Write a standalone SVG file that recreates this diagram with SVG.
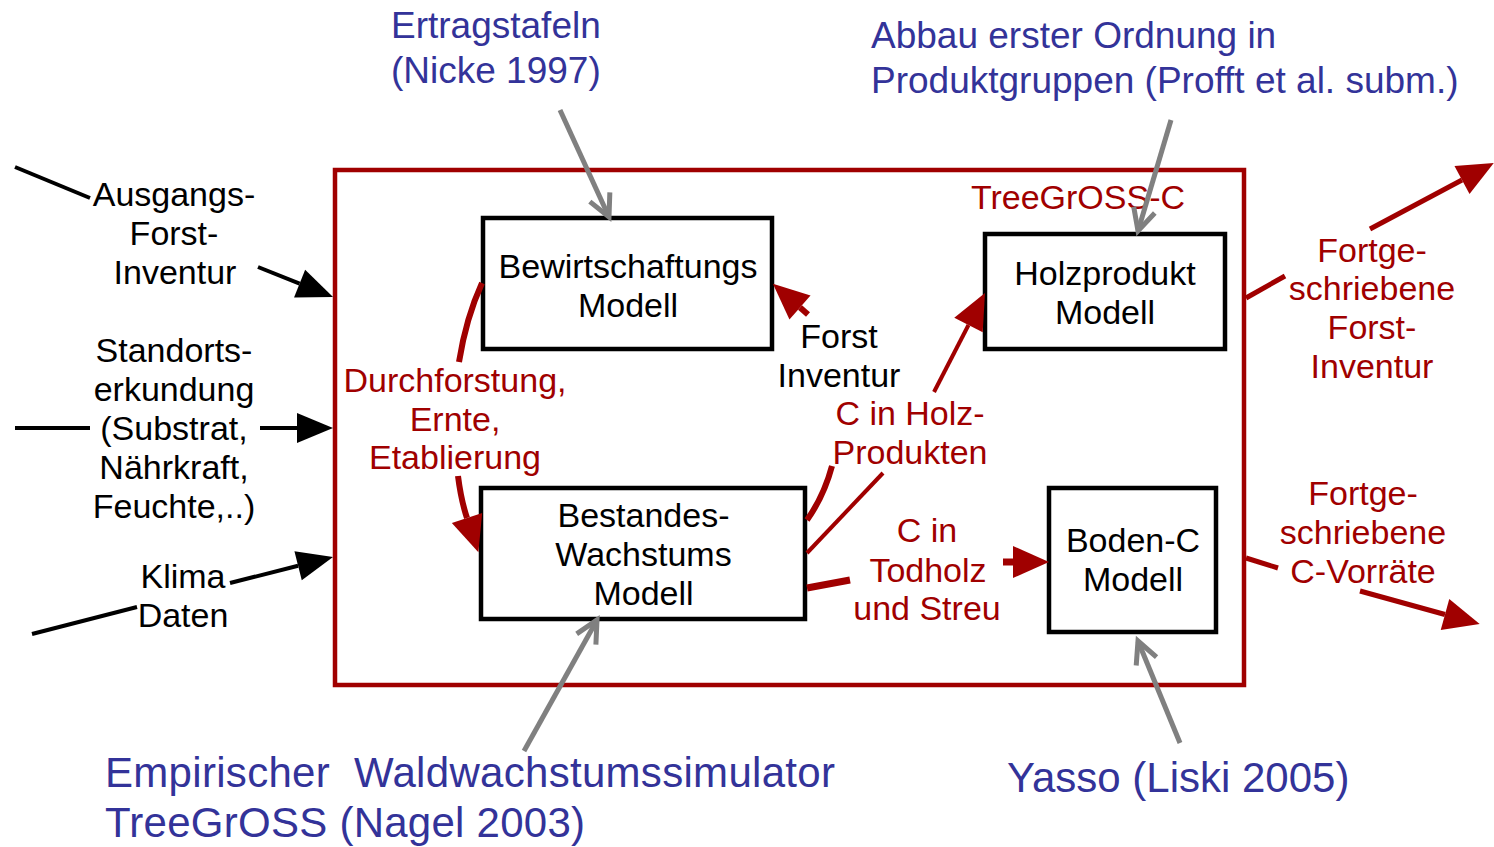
<svg xmlns="http://www.w3.org/2000/svg" width="1494" height="847" viewBox="0 0 1494 847">
<style>
text{font-family:"Liberation Sans",Arial,Helvetica,sans-serif;}
.blk{font-size:34px;fill:#000;text-anchor:middle;}
.red{font-size:34px;fill:#a00000;text-anchor:middle;}
.blue{fill:#333399;}
.box{fill:#fff;stroke:#000;stroke-width:4.5;}
.frame{fill:none;stroke:#a00000;stroke-width:4.5;}
.rl{fill:none;stroke:#a00000;}
.bl{fill:none;stroke:#000;stroke-width:4;}
.gl{fill:none;stroke:#808080;stroke-width:5;}
</style>
<defs>
<marker id="ahB" markerUnits="userSpaceOnUse" viewBox="0 0 36 30" refX="0" refY="15" markerWidth="36" markerHeight="30" orient="auto" overflow="visible"><path d="M0,0 L36,15 L0,30 z" fill="#000"/></marker>
<marker id="ahR" markerUnits="userSpaceOnUse" viewBox="0 0 36 32" refX="0" refY="16" markerWidth="36" markerHeight="32" orient="auto" overflow="visible"><path d="M0,0 L36,16 L0,32 z" fill="#a00000"/></marker>
<marker id="ahG" markerUnits="userSpaceOnUse" viewBox="-26 -16 32 32" refX="0" refY="0" markerWidth="32" markerHeight="32" orient="auto" overflow="visible"><path d="M-22,-11 L0,0 L-22,11" fill="none" stroke="#808080" stroke-width="5"/></marker>
</defs>

<rect id="frame" class="frame" x="335" y="170" width="909" height="515"/>
<text id="frame-label" class="red" x="1078" y="209">TreeGrOSS-C</text>

<g id="node-bewirtschaftung">
<rect class="box" x="483" y="218" width="289" height="131"/>
<text class="blk" x="628" y="278">Bewirtschaftungs</text>
<text class="blk" x="628" y="317">Modell</text>
</g>
<g id="node-bestandes">
<rect class="box" x="481" y="488" width="324" height="131"/>
<text class="blk" x="643.5" y="527">Bestandes-</text>
<text class="blk" x="643.5" y="566">Wachstums</text>
<text class="blk" x="643.5" y="605">Modell</text>
</g>
<g id="node-holzprodukt">
<rect class="box" x="985" y="234" width="240" height="115"/>
<text class="blk" x="1105" y="285">Holzprodukt</text>
<text class="blk" x="1105" y="324">Modell</text>
</g>
<g id="node-boden">
<rect class="box" x="1049" y="488" width="167" height="144"/>
<text class="blk" x="1133" y="552">Boden-C</text>
<text class="blk" x="1133" y="591">Modell</text>
</g>

<g id="input-labels">
<text class="blk" x="174" y="206">Ausgangs-</text>
<text class="blk" x="174" y="245">Forst-</text>
<text class="blk" x="175" y="284">Inventur</text>
<text class="blk" x="174" y="362">Standorts-</text>
<text class="blk" x="174" y="401">erkundung</text>
<text class="blk" x="174" y="440">(Substrat,</text>
<text class="blk" x="174" y="479">Nährkraft,</text>
<text class="blk" x="174" y="518">Feuchte,..)</text>
<text class="blk" x="183" y="588">Klima</text>
<text class="blk" x="183" y="627">Daten</text>
</g>

<g id="flow-labels">
<text class="red" x="455" y="392">Durchforstung,</text>
<text class="red" x="455" y="431">Ernte,</text>
<text class="red" x="455" y="469">Etablierung</text>
<text class="blk" x="839" y="348">Forst</text>
<text class="blk" x="839" y="387">Inventur</text>
<text class="red" x="910" y="425">C in Holz-</text>
<text class="red" x="910" y="464">Produkten</text>
<text class="red" x="927" y="542">C in</text>
<text class="red" x="928" y="582">Todholz</text>
<text class="red" x="927" y="620">und Streu</text>
<text class="red" x="1372" y="262">Fortge-</text>
<text class="red" x="1372" y="300">schriebene</text>
<text class="red" x="1372" y="339">Forst-</text>
<text class="red" x="1372" y="378">Inventur</text>
<text class="red" x="1363" y="505">Fortge-</text>
<text class="red" x="1363" y="544">schriebene</text>
<text class="red" x="1363" y="583">C-Vorräte</text>
</g>

<g id="source-labels">
<text class="blue" x="391" y="38" font-size="37">Ertragstafeln</text>
<text class="blue" x="391" y="83" font-size="37">(Nicke 1997)</text>
<text class="blue" x="871" y="48" font-size="37">Abbau erster Ordnung in</text>
<text class="blue" x="871" y="93" font-size="37">Produktgruppen (Profft et al. subm.)</text>
<text class="blue" x="105" y="787" font-size="42" xml:space="preserve" textLength="730" lengthAdjust="spacing">Empirischer  Waldwachstumssimulator</text>
<text class="blue" x="105" y="837" font-size="42" textLength="480" lengthAdjust="spacing">TreeGrOSS (Nagel 2003)</text>
<text class="blue" x="1007" y="792" font-size="42">Yasso (Liski 2005)</text>
</g>

<g id="connectors">
<path class="rl" stroke-width="6" d="M482,283 Q466,318 459,362"/>
<path class="rl" stroke-width="6" d="M458,476 Q461,500 467,518" marker-end="url(#ahR)"/>
<path class="rl" stroke-width="6" d="M807,520 Q824,496 832,466"/>
<path class="rl" stroke-width="6" d="M808,314.5 L800,307.5" marker-end="url(#ahR)"/>
<path class="rl" stroke-width="4" d="M807,553 L883,473"/>
<path class="rl" stroke-width="4" d="M934,392 L968.5,325" marker-end="url(#ahR)"/>
<path class="rl" stroke-width="7" d="M807,588 L850,580"/>
<path class="rl" stroke-width="7" d="M1003,562 L1013,562" marker-end="url(#ahR)"/>
<path class="rl" stroke-width="5" d="M1246,298 L1285,276"/>
<path class="rl" stroke-width="5" d="M1370,229 L1462,180" marker-end="url(#ahR)"/>
<path class="rl" stroke-width="5" d="M1246,558 L1278,568"/>
<path class="rl" stroke-width="5" d="M1360,591 L1445,614.5" marker-end="url(#ahR)"/>

<path class="bl" d="M15,167 L90,198"/>
<path class="bl" d="M258,267 L299.6,283.6" marker-end="url(#ahB)"/>
<path class="bl" d="M15,428 L90,428"/>
<path class="bl" d="M260,428 L297,428" marker-end="url(#ahB)"/>
<path class="bl" d="M32,634 L137,607"/>
<path class="bl" d="M230,583 L298.1,565.8" marker-end="url(#ahB)"/>

<path class="gl" d="M560,110 L609,217" marker-end="url(#ahG)"/>
<path class="gl" d="M1171,120 L1138,231" marker-end="url(#ahG)"/>
<path class="gl" d="M524,751 L597,620" marker-end="url(#ahG)"/>
<path class="gl" d="M1180,743 L1138,641" marker-end="url(#ahG)"/>
</g>
</svg>
